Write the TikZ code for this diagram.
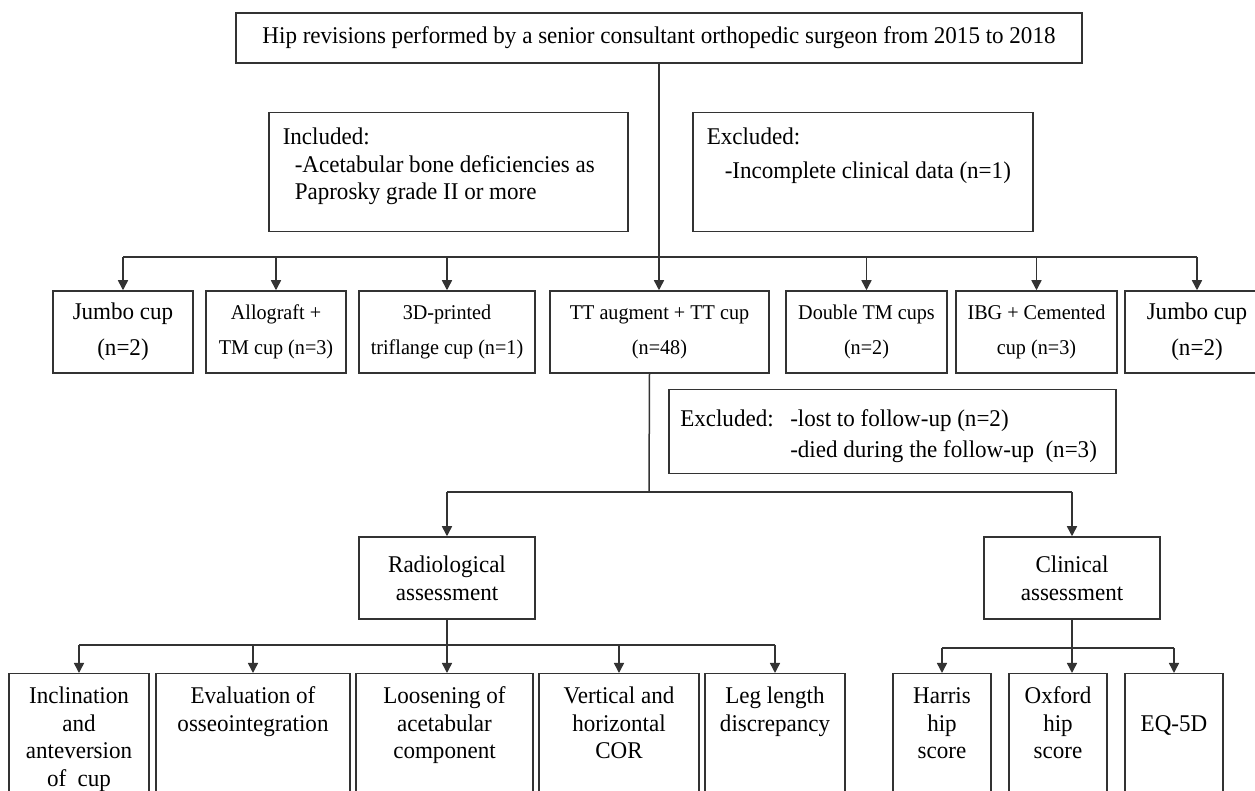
\documentclass[tikz,border=0pt]{standalone}
\usepackage{fontspec}
\setmainfont{Liberation Serif}[FakeStretch=0.96]
\usetikzlibrary{arrows.meta}
\tikzset{
    box/.style={draw=black!80,line width=0.75pt,align=center,inner sep=2pt},
    cup/.style={box,minimum width=#1,minimum height=41pt},
    small/.style={font=\fontsize{10.5}{12.6}\selectfont},
    note/.style={draw=black!80,line width=0.75pt,anchor=north west,align=flush left,
        inner sep=7pt,text width=#1},
    leaf/.style={draw=black!80,line width=0.75pt,anchor=north,align=flush center,
        inner xsep=2pt,inner ysep=3pt,text width=#1,text height=12pt,text depth=52pt},
    link/.style={draw=black!80,line width=0.75pt},
    arr/.style={link,-{Triangle[length=5pt,width=5pt]}},
}
\begin{document}
\begin{tikzpicture}[x=0.5pt,y=-0.5pt,font=\fontsize{12}{13.8}\selectfont]
\useasboundingbox (0,0) rectangle (1255,791);
% top and selection criteria
\node[box,minimum width=423pt,minimum height=25pt] (hip) at (659,38)
    {Hip revisions performed by a senior consultant orthopedic surgeon from 2015 to 2018};
\node[note=165.5pt,text height=9pt,text depth=36.5pt] (incl) at (268,112)
    {Included:\\\hspace*{6pt}-Acetabular bone deficiencies as\\\hspace*{6pt}Paprosky grade II or more};
\node[note=156pt,text height=9pt,text depth=36.5pt] (excl) at (692,112)
    {Excluded:\\[3pt]\hspace*{9pt}-Incomplete clinical data (n=1)};
% implants
\node[cup=70pt] (jumbo1) at (123,332) {Jumbo cup\\[4pt](n=2)};
\node[cup=70pt,small] (allo) at (276,332) {Allograft +\\[5pt]TM cup (n=3)};
\node[cup=88pt,small] (tri) at (447,332) {3D-printed\\[5pt]triflange cup (n=1)};
\node[cup=109.5pt,small] (tt) at (659.5,332) {TT augment + TT cup\\[5pt](n=48)};
\node[cup=80.5pt,small] (dtm) at (866.5,332) {Double TM cups\\[5pt](n=2)};
\node[cup=80.5pt,small] (ibg) at (1036.5,332) {IBG + Cemented\\[5pt]cup (n=3)};
\node[cup=72pt] (jumbo2) at (1197,332) {Jumbo cup\\[4pt](n=2)};
\node[note=212pt,inner xsep=5.75pt,text height=11.5pt,text depth=16.5pt] (excl2) at (668,389)
    {\makebox[55pt][l]{Excluded:}-lost to follow-up (n=2)\\[1.6pt]\hspace*{55pt}-died during the follow-up\ \ (n=3)};
% assessments
\node[box,minimum width=88pt,minimum height=41pt] (radio) at (447,578) {Radiological\\assessment};
\node[box,minimum width=88pt,minimum height=41pt] (clin) at (1072,578) {Clinical\\assessment};
\node[leaf=66pt] (inc) at (79,673) {Inclination\\and\\anteversion\\of\ \ cup};
\node[leaf=93pt] (eval) at (253,673) {Evaluation of\\osseointegration};
\node[leaf=84.5pt] (loos) at (444.5,673) {Loosening of\\acetabular\\component};
\node[leaf=76pt] (vert) at (619,673) {Vertical and\\horizontal\\COR};
\node[leaf=66pt] (leg) at (775,673) {Leg length\\discrepancy};
\node[leaf=45pt] (harris) at (942,673) {Harris\\hip\\score};
\node[leaf=45pt] (oxford) at (1058,673) {Oxford\\hip\\score};
\node[leaf=45pt,text height=25.8pt,text depth=38.2pt] (eq) at (1174,673) {EQ-5D};
% connectors
\coordinate (split1) at (659,257);
\coordinate (split2) at (649,492);
\coordinate (split3) at (447,645);
\coordinate (split4) at (1072,648);
\draw[arr] (hip.south) -- (hip.south |- tt.north);
\draw[link] (split1 -| jumbo1) -- (split1 -| jumbo2);
\foreach \n in {jumbo1,allo,tri,dtm,ibg,jumbo2}
    \draw[arr] (split1 -| \n) -- (\n.north);
\draw[link] ([xshift=-5pt]tt.south) -- (split2);
\draw[link] (split2 -| radio) -- (split2 -| clin);
\draw[arr] (split2 -| radio) -- (radio.north);
\draw[arr] (split2 -| clin) -- (clin.north);
\draw[arr] (radio.south) -- (radio.south |- loos.north);
\draw[link] (split3 -| inc) -- (split3 -| leg);
\foreach \n in {inc,eval,vert,leg}
    \draw[arr] (split3 -| \n) -- (\n.north);
\draw[arr] (clin.south) -- (clin.south |- oxford.north);
\draw[link] (split4 -| harris) -- (split4 -| eq);
\foreach \n in {harris,eq}
    \draw[arr] (split4 -| \n) -- (\n.north);
\end{tikzpicture}
\end{document}
